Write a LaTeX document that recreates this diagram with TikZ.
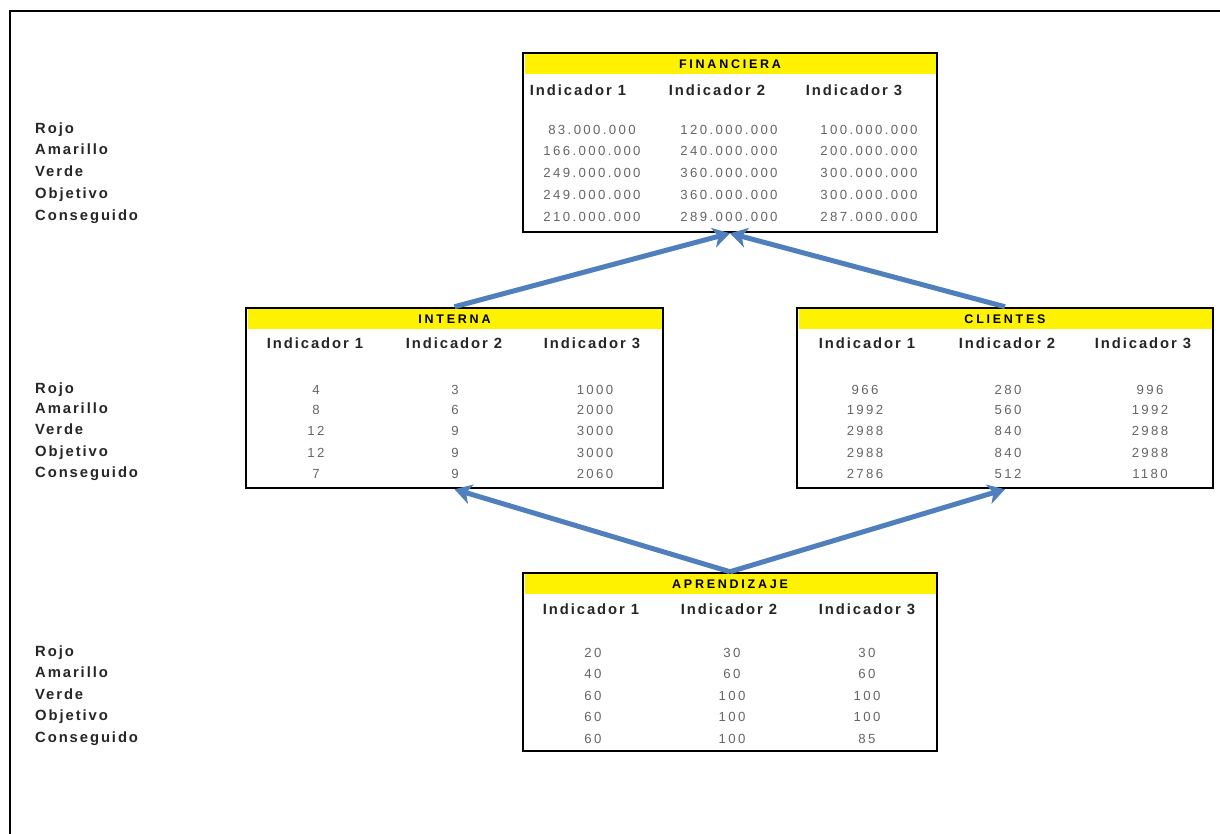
\documentclass[tikz,border=0pt]{standalone}
\usepackage{fontspec}
\setmainfont{Liberation Sans}[LetterSpace=13]
\newfontfamily\numfont{Liberation Sans}[LetterSpace=18]
\newfontfamily\bandfont{Liberation Sans}[LetterSpace=22]
\usetikzlibrary{arrows.meta}
\definecolor{arrowblue}{HTML}{4F7FBC}
\newcommand{\hd}[1]{\fontsize{#1}{#1}\selectfont}

\tikzset{
  panel/.style={draw, line width=2.5pt, inner sep=0pt},
  band/.style={fill=yellow, inner sep=0pt, minimum height=20pt, font=\bandfont\bfseries\hd{12.5}},
  rowlbl/.style={anchor=west, inner sep=0pt, text height=10.5pt, text depth=3pt, text=black!85, font=\bfseries\hd{14.8}},
  colhead/.style={text=black!85, font=\bfseries\hd{14.8}},
  cell/.style={text=black!60, font=\numfont\hd{13.2}},
  flow/.style={draw=arrowblue, line width=5pt, -{Stealth[length=17pt,width=20pt,inset=5pt]}},
}

\begin{document}
\begin{tikzpicture}[x=1pt,y=-1pt]
    \useasboundingbox (0,0) rectangle (1220,834);
    \draw[line width=2pt] (10,834) |- (1220,11);

    % financiera
    \node[band, minimum width=411pt] (finhead) at (730,64) {FINANCIERA};
    \node[panel, minimum width=414pt, minimum height=179pt] (fin) at (730,142.5) {};
    \node[colhead] (fc1) at (578,90) {Indicador 1};
    \node[colhead] (fc2) at (717,90) {Indicador 2};
    \node[colhead] (fc3) at (854,90) {Indicador 3};
    \node[cell] (f11) at (592,130) {83.000.000};
    \node[cell] (f12) at (729,130) {120.000.000};
    \node[cell] (f13) at (869,130) {100.000.000};
    \node[cell] (f21) at (592,151) {166.000.000};
    \node[cell] (f22) at (729,151) {240.000.000};
    \node[cell] (f23) at (869,151) {200.000.000};
    \node[cell] (f31) at (592,173) {249.000.000};
    \node[cell] (f32) at (729,173) {360.000.000};
    \node[cell] (f33) at (869,173) {300.000.000};
    \node[cell] (f41) at (592,195) {249.000.000};
    \node[cell] (f42) at (729,195) {360.000.000};
    \node[cell] (f43) at (869,195) {300.000.000};
    \node[cell] (f51) at (592,217) {210.000.000};
    \node[cell] (f52) at (729,217) {289.000.000};
    \node[cell] (f53) at (869,217) {287.000.000};
    \node[rowlbl] (fr1) at (35,130) {Rojo};
    \node[rowlbl] (fr2) at (35,151) {Amarillo};
    \node[rowlbl] (fr3) at (35,173) {Verde};
    \node[rowlbl] (fr4) at (35,195) {Objetivo};
    \node[rowlbl] (fr5) at (35,217) {Conseguido};

    % interna
    \node[band, minimum width=414pt] (inthead) at (454.5,319) {INTERNA};
    \node[panel, minimum width=417pt, minimum height=180pt] (int) at (454.5,398) {};
    \node[colhead] (ic1) at (315,343) {Indicador 1};
    \node[colhead] (ic2) at (454,343) {Indicador 2};
    \node[colhead] (ic3) at (592,343) {Indicador 3};
    \node[cell] (i11) at (316,390) {4};
    \node[cell] (i12) at (455,390) {3};
    \node[cell] (i13) at (595,390) {1000};
    \node[cell] (i21) at (316,410) {8};
    \node[cell] (i22) at (455,410) {6};
    \node[cell] (i23) at (595,410) {2000};
    \node[cell] (i31) at (316,431) {12};
    \node[cell] (i32) at (455,431) {9};
    \node[cell] (i33) at (595,431) {3000};
    \node[cell] (i41) at (316,453) {12};
    \node[cell] (i42) at (455,453) {9};
    \node[cell] (i43) at (595,453) {3000};
    \node[cell] (i51) at (316,474) {7};
    \node[cell] (i52) at (455,474) {9};
    \node[cell] (i53) at (595,474) {2060};
    \node[rowlbl] (ir1) at (35,390) {Rojo};
    \node[rowlbl] (ir2) at (35,410) {Amarillo};
    \node[rowlbl] (ir3) at (35,431) {Verde};
    \node[rowlbl] (ir4) at (35,453) {Objetivo};
    \node[rowlbl] (ir5) at (35,474) {Conseguido};

    % clientes
    \node[band, minimum width=413pt] (clihead) at (1005,319) {CLIENTES};
    \node[panel, minimum width=416pt, minimum height=180pt] (cli) at (1005,398) {};
    \node[colhead] (cc1) at (867,343) {Indicador 1};
    \node[colhead] (cc2) at (1007,343) {Indicador 2};
    \node[colhead] (cc3) at (1143,343) {Indicador 3};
    \node[cell] (c11) at (865,390) {966};
    \node[cell] (c12) at (1008,390) {280};
    \node[cell] (c13) at (1150,390) {996};
    \node[cell] (c21) at (865,410) {1992};
    \node[cell] (c22) at (1008,410) {560};
    \node[cell] (c23) at (1150,410) {1992};
    \node[cell] (c31) at (865,431) {2988};
    \node[cell] (c32) at (1008,431) {840};
    \node[cell] (c33) at (1150,431) {2988};
    \node[cell] (c41) at (865,453) {2988};
    \node[cell] (c42) at (1008,453) {840};
    \node[cell] (c43) at (1150,453) {2988};
    \node[cell] (c51) at (865,474) {2786};
    \node[cell] (c52) at (1008,474) {512};
    \node[cell] (c53) at (1150,474) {1180};

    % aprendizaje
    \node[band, minimum width=411pt] (aprhead) at (730,584) {APRENDIZAJE};
    \node[panel, minimum width=414pt, minimum height=178pt] (apr) at (730,662) {};
    \node[colhead] (ac1) at (591,609) {Indicador 1};
    \node[colhead] (ac2) at (729,609) {Indicador 2};
    \node[colhead] (ac3) at (867,609) {Indicador 3};
    \node[cell] (a11) at (593,653) {20};
    \node[cell] (a12) at (732,653) {30};
    \node[cell] (a13) at (867,653) {30};
    \node[cell] (a21) at (593,674) {40};
    \node[cell] (a22) at (732,674) {60};
    \node[cell] (a23) at (867,674) {60};
    \node[cell] (a31) at (593,696) {60};
    \node[cell] (a32) at (732,696) {100};
    \node[cell] (a33) at (867,696) {100};
    \node[cell] (a41) at (593,717) {60};
    \node[cell] (a42) at (732,717) {100};
    \node[cell] (a43) at (867,717) {100};
    \node[cell] (a51) at (593,739) {60};
    \node[cell] (a52) at (732,739) {100};
    \node[cell] (a53) at (867,739) {85};
    \node[rowlbl] (ar1) at (35,653) {Rojo};
    \node[rowlbl] (ar2) at (35,674) {Amarillo};
    \node[rowlbl] (ar3) at (35,696) {Verde};
    \node[rowlbl] (ar4) at (35,717) {Objetivo};
    \node[rowlbl] (ar5) at (35,739) {Conseguido};

    \path (int.north) edge[flow] (fin.south);
    \path (cli.north) edge[flow] (fin.south);
    \path (apr.north) edge[flow] (int.south);
    \path (apr.north) edge[flow] (cli.south);
  \end{tikzpicture}
\end{document}
